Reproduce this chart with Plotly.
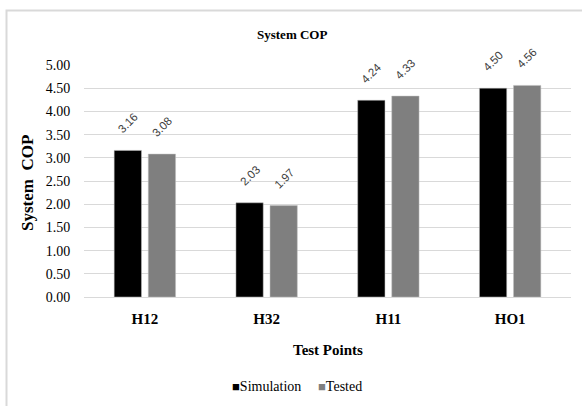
import plotly.graph_objects as go

categories = ["H12", "H32", "H11", "HO1"]
series_names = ["Simulation", "Tested"]
simulation = [3.16, 2.03, 4.24, 4.50]
tested = [3.08, 1.97, 4.33, 4.56]
y_ticks = [0, 0.5, 1, 1.5, 2, 2.5, 3, 3.5, 4, 4.5, 5]
colors = ["#000000", "#7f7f7f"]

W, H = 582, 406
L, R, T, B = 84, 11, 65, 109
pw, ph = W - L - R, H - T - B

def px_x(p):
    return (p - L) / pw

def px_y(p):
    return (H - B - p) / ph

serif = "Liberation Serif, Times New Roman, serif"

fig = go.Figure()
for name, vals, col in zip(series_names, (simulation, tested), colors):
    fig.add_trace(go.Bar(x=categories, y=vals, name=name, showlegend=False,
                         marker=dict(color=col, line=dict(color="#bfbfbf", width=0.5))))

annotations = []
for series, shift in ((simulation, -17), (tested, 17)):
    for c, v in zip(categories, series):
        annotations.append(dict(x=c, y=v, xref="x", yref="y", text=f"{v:.2f}",
                                showarrow=False, textangle=-45, xshift=shift, yshift=27,
                                xanchor="center", yanchor="middle",
                                font=dict(family="Liberation Sans", size=11.5, color="#404040")))

annotations.append(dict(x=px_x(327.5), y=px_y(350), xref="paper", yref="paper",
                        text="<b>Test Points</b>", showarrow=False,
                        xanchor="center", yanchor="middle",
                        font=dict(family=serif, size=15, color="#000000")))
annotations.append(dict(x=px_x(27), y=px_y(183), xref="paper", yref="paper",
                        text="<b>System  COP</b>", showarrow=False, textangle=-90,
                        xanchor="center", yanchor="middle",
                        font=dict(family=serif, size=17, color="#000000")))
annotations.append(dict(x=px_x(292), y=px_y(34), xref="paper", yref="paper",
                        text="<b>System COP</b>", showarrow=False,
                        xanchor="center", yanchor="middle",
                        font=dict(family=serif, size=13, color="#000000")))
# legend entries (small squares + names)
legend_x = [230, 316]
for name, col, lx in zip(series_names, colors, legend_x):
    annotations.append(dict(x=px_x(lx), y=px_y(386), xref="paper", yref="paper",
                            text=f"<span style='color:{col}; font-size:13px'>■</span>{name}",
                            showarrow=False, xanchor="left", yanchor="middle",
                            font=dict(family=serif, size=14, color="#000000")))

fig.update_layout(
    width=W, height=H,
    margin=dict(l=L, r=R, t=T, b=B, pad=0, autoexpand=False),
    paper_bgcolor="white", plot_bgcolor="white",
    barmode="group", bargap=0.44, bargroupgap=0.2,
    annotations=annotations,
    showlegend=False,
    shapes=[dict(type="rect", xref="paper", yref="paper",
                 x0=px_x(6.5), x1=px_x(600), y0=px_y(430), y1=px_y(10.5),
                 line=dict(color="#d9d9d9", width=2), fillcolor="rgba(0,0,0,0)", layer="below")],
    font=dict(family=serif, color="#000000"),
)
fig.update_xaxes(type="category", showgrid=False, showline=True, linecolor="#d9d9d9", linewidth=1,
                 automargin=False,
                 ticks="outside", ticklen=8, tickcolor="rgba(0,0,0,0)",
                 tickfont=dict(family=serif, size=15, color="#000000", weight="bold"))
fig.update_yaxes(range=[0, 5], tickvals=y_ticks, ticktext=[f"{v:.2f}" for v in y_ticks],
                 automargin=False,
                 showgrid=True, gridcolor="#d9d9d9", gridwidth=1, zeroline=False, showline=False,
                 ticks="outside", ticklen=10, tickcolor="rgba(0,0,0,0)",
                 tickfont=dict(family=serif, size=14, color="#000000"))

fig.write_html("out.html", config={"displayModeBar": False},
               post_script="document.body.style.margin='0px';document.body.style.overflow='hidden';")
